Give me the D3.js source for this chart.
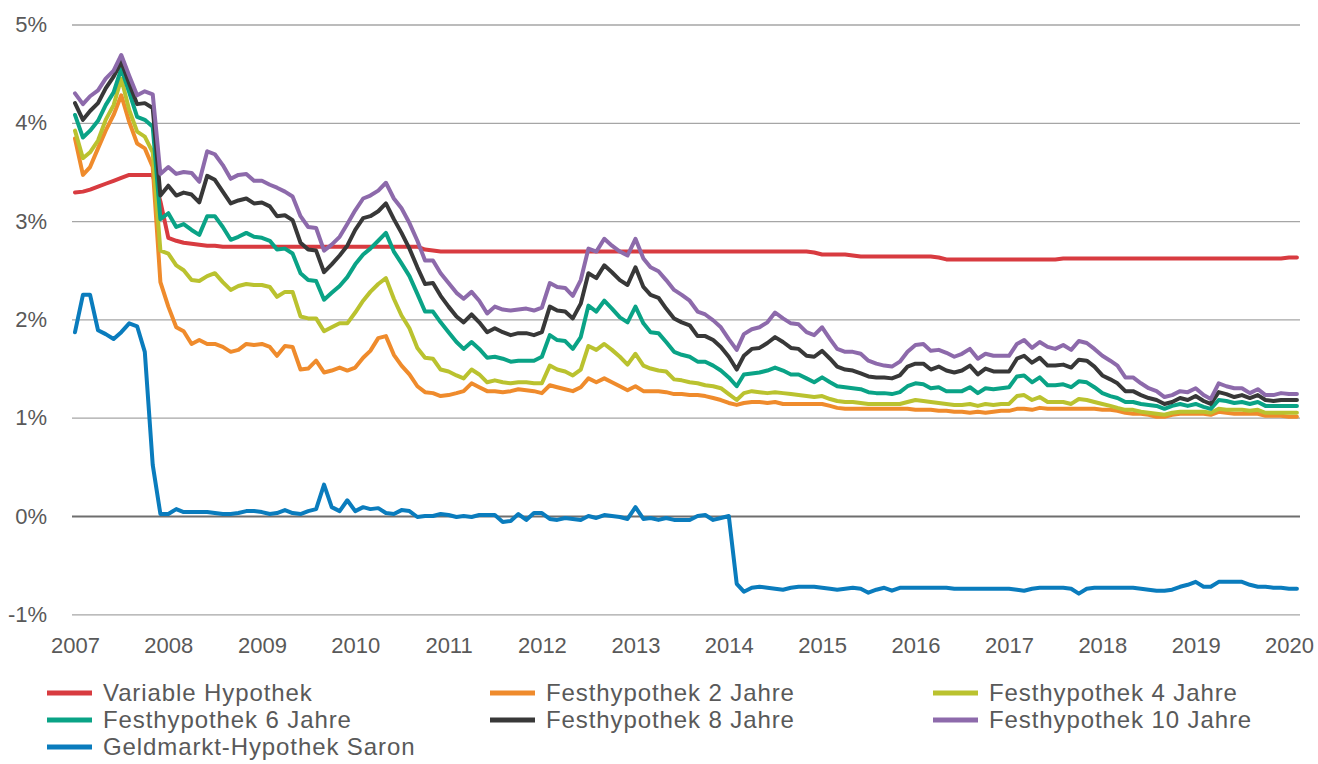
<!DOCTYPE html>
<html lang="de">
<head>
<meta charset="UTF-8">
<title>Hypothekarzinsen</title>
<style>
  body { margin: 0; background: #fff; }
  .axis text { font-family: "Liberation Sans", Arial, sans-serif; font-size: 22px; fill: #595959; }
  .legend text { font-family: "Liberation Sans", Arial, sans-serif; font-size: 24px; fill: #595959; letter-spacing: 0.9px; }
  .grid line { stroke: #a6a6a6; stroke-width: 1.3px; }
  .line { fill: none; stroke-width: 4px; stroke-linejoin: round; stroke-linecap: round; }
</style>
</head>
<body>
<script src="https://d3js.org/d3.v7.min.js"></script>
<script>
// monthly values, Jan 2007 .. Feb 2020 (one row per year)
const variable = [
  3.29, 3.30, 3.32, 3.35, 3.38, 3.41, 3.44, 3.47, 3.47, 3.47, 3.47, 3.20,
  2.83, 2.80, 2.78, 2.77, 2.76, 2.75, 2.75, 2.74, 2.74, 2.74, 2.74, 2.74,
  2.74, 2.74, 2.74, 2.74, 2.74, 2.74, 2.74, 2.74, 2.74, 2.74, 2.74, 2.74,
  2.74, 2.74, 2.74, 2.74, 2.74, 2.74, 2.74, 2.74, 2.74, 2.71, 2.70, 2.69,
  2.69, 2.69, 2.69, 2.69, 2.69, 2.69, 2.69, 2.69, 2.69, 2.69, 2.69, 2.69,
  2.69, 2.69, 2.69, 2.69, 2.69, 2.69, 2.69, 2.69, 2.69, 2.69, 2.69, 2.69,
  2.69, 2.69, 2.69, 2.69, 2.69, 2.69, 2.69, 2.69, 2.69, 2.69, 2.69, 2.69,
  2.69, 2.69, 2.69, 2.69, 2.69, 2.69, 2.69, 2.69, 2.69, 2.69, 2.69, 2.68,
  2.66, 2.66, 2.66, 2.66, 2.65, 2.64, 2.64, 2.64, 2.64, 2.64, 2.64, 2.64,
  2.64, 2.64, 2.64, 2.63, 2.61, 2.61, 2.61, 2.61, 2.61, 2.61, 2.61, 2.61,
  2.61, 2.61, 2.61, 2.61, 2.61, 2.61, 2.61, 2.62, 2.62, 2.62, 2.62, 2.62,
  2.62, 2.62, 2.62, 2.62, 2.62, 2.62, 2.62, 2.62, 2.62, 2.62, 2.62, 2.62,
  2.62, 2.62, 2.62, 2.62, 2.62, 2.62, 2.62, 2.62, 2.62, 2.62, 2.62, 2.62,
  2.63, 2.63
];
const fix2 = [
  3.84, 3.47, 3.55, 3.74, 3.92, 4.08, 4.28, 4.01, 3.79, 3.74, 3.55, 2.38,
  2.13, 1.92, 1.88, 1.75, 1.79, 1.75, 1.75, 1.72, 1.67, 1.69, 1.75, 1.74,
  1.75, 1.72, 1.63, 1.73, 1.72, 1.49, 1.50, 1.58, 1.46, 1.48, 1.51, 1.48,
  1.51, 1.61, 1.68, 1.81, 1.83, 1.64, 1.53, 1.44, 1.32, 1.26, 1.25, 1.22,
  1.23, 1.25, 1.27, 1.35, 1.31, 1.27, 1.27, 1.26, 1.27, 1.29, 1.28, 1.27,
  1.25, 1.33, 1.31, 1.29, 1.27, 1.31, 1.40, 1.36, 1.40, 1.36, 1.32, 1.28,
  1.32, 1.27, 1.27, 1.27, 1.26, 1.24, 1.24, 1.23, 1.23, 1.22, 1.20, 1.18,
  1.15, 1.13, 1.15, 1.16, 1.16, 1.15, 1.16, 1.14, 1.14, 1.14, 1.14, 1.14,
  1.14, 1.12, 1.10, 1.09, 1.09, 1.09, 1.09, 1.09, 1.09, 1.09, 1.09, 1.09,
  1.08, 1.08, 1.08, 1.07, 1.07, 1.06, 1.06, 1.05, 1.06, 1.05, 1.06, 1.07,
  1.07, 1.09, 1.09, 1.08, 1.10, 1.09, 1.09, 1.09, 1.09, 1.09, 1.09, 1.09,
  1.08, 1.08, 1.07, 1.05, 1.04, 1.04, 1.03, 1.01, 1.01, 1.03, 1.04, 1.04,
  1.04, 1.04, 1.03, 1.06, 1.05, 1.04, 1.04, 1.04, 1.04, 1.02, 1.02, 1.02,
  1.01, 1.01
];
const fix4 = [
  3.92, 3.64, 3.70, 3.82, 4.03, 4.18, 4.45, 4.13, 3.91, 3.86, 3.70, 2.70,
  2.67, 2.55, 2.50, 2.40, 2.39, 2.44, 2.47, 2.38, 2.30, 2.34, 2.36, 2.35,
  2.35, 2.33, 2.23, 2.28, 2.28, 2.03, 2.01, 2.01, 1.88, 1.92, 1.96, 1.96,
  2.07, 2.19, 2.28, 2.36, 2.42, 2.21, 2.04, 1.91, 1.71, 1.61, 1.60, 1.49,
  1.47, 1.43, 1.40, 1.49, 1.44, 1.36, 1.38, 1.36, 1.35, 1.36, 1.36, 1.35,
  1.35, 1.53, 1.49, 1.47, 1.43, 1.49, 1.73, 1.69, 1.75, 1.69, 1.62, 1.54,
  1.65, 1.53, 1.50, 1.48, 1.47, 1.39, 1.38, 1.36, 1.35, 1.33, 1.32, 1.30,
  1.24, 1.18, 1.25, 1.27, 1.26, 1.25, 1.26, 1.25, 1.24, 1.23, 1.22, 1.21,
  1.22, 1.19, 1.17, 1.16, 1.16, 1.15, 1.14, 1.14, 1.14, 1.14, 1.14, 1.16,
  1.18, 1.17, 1.16, 1.15, 1.14, 1.13, 1.13, 1.14, 1.12, 1.14, 1.13, 1.14,
  1.14, 1.22, 1.23, 1.18, 1.21, 1.16, 1.16, 1.16, 1.14, 1.19, 1.18, 1.16,
  1.14, 1.12, 1.10, 1.08, 1.08, 1.06, 1.05, 1.04, 1.03, 1.05, 1.06, 1.06,
  1.06, 1.06, 1.05, 1.09, 1.08, 1.08, 1.08, 1.07, 1.08, 1.05, 1.05, 1.05,
  1.05, 1.05
];
const fix6 = [
  4.08, 3.85, 3.92, 4.02, 4.18, 4.31, 4.55, 4.31, 4.06, 4.03, 3.96, 3.02,
  3.08, 2.94, 2.97, 2.91, 2.86, 3.05, 3.05, 2.94, 2.81, 2.84, 2.88, 2.84,
  2.83, 2.80, 2.71, 2.72, 2.67, 2.47, 2.40, 2.39, 2.20, 2.27, 2.34, 2.43,
  2.56, 2.66, 2.72, 2.80, 2.88, 2.69, 2.57, 2.44, 2.26, 2.08, 2.08, 1.97,
  1.87, 1.77, 1.70, 1.77, 1.70, 1.61, 1.62, 1.60, 1.57, 1.58, 1.58, 1.58,
  1.62, 1.84, 1.79, 1.78, 1.70, 1.82, 2.14, 2.08, 2.19, 2.11, 2.02, 1.97,
  2.13, 1.96, 1.87, 1.86, 1.77, 1.67, 1.64, 1.62, 1.57, 1.57, 1.53, 1.48,
  1.41, 1.32, 1.44, 1.45, 1.46, 1.48, 1.51, 1.48, 1.44, 1.44, 1.40, 1.36,
  1.41, 1.36, 1.32, 1.31, 1.30, 1.29, 1.26, 1.25, 1.25, 1.24, 1.26, 1.32,
  1.35, 1.34, 1.30, 1.31, 1.27, 1.27, 1.27, 1.31, 1.25, 1.30, 1.29, 1.30,
  1.31, 1.42, 1.43, 1.36, 1.41, 1.33, 1.33, 1.34, 1.31, 1.37, 1.36, 1.31,
  1.25, 1.22, 1.20, 1.16, 1.16, 1.14, 1.13, 1.12, 1.09, 1.12, 1.14, 1.12,
  1.14, 1.11, 1.09, 1.18, 1.17, 1.15, 1.16, 1.14, 1.16, 1.12, 1.12, 1.12,
  1.12, 1.12
];
const fix8 = [
  4.20, 4.03, 4.12, 4.20, 4.35, 4.47, 4.62, 4.40, 4.19, 4.20, 4.15, 3.26,
  3.36, 3.26, 3.29, 3.27, 3.19, 3.46, 3.42, 3.30, 3.18, 3.21, 3.23, 3.18,
  3.19, 3.15, 3.05, 3.06, 3.01, 2.78, 2.71, 2.70, 2.48, 2.56, 2.65, 2.75,
  2.91, 3.03, 3.05, 3.10, 3.18, 3.02, 2.88, 2.72, 2.53, 2.36, 2.37, 2.24,
  2.13, 2.03, 1.97, 2.05, 1.97, 1.87, 1.91, 1.87, 1.84, 1.86, 1.86, 1.84,
  1.87, 2.13, 2.09, 2.08, 2.01, 2.16, 2.47, 2.42, 2.55, 2.48, 2.40, 2.35,
  2.53, 2.33, 2.25, 2.22, 2.11, 2.01, 1.97, 1.94, 1.83, 1.83, 1.79, 1.72,
  1.62, 1.49, 1.63, 1.70, 1.71, 1.76, 1.82, 1.77, 1.71, 1.70, 1.63, 1.62,
  1.68, 1.60, 1.52, 1.49, 1.48, 1.45, 1.42, 1.41, 1.41, 1.40, 1.43, 1.52,
  1.55, 1.55, 1.49, 1.52, 1.48, 1.46, 1.48, 1.53, 1.44, 1.50, 1.47, 1.47,
  1.47, 1.60, 1.63, 1.56, 1.61, 1.53, 1.53, 1.54, 1.51, 1.59, 1.58, 1.52,
  1.43, 1.39, 1.35, 1.27, 1.27, 1.23, 1.20, 1.18, 1.14, 1.16, 1.20, 1.18,
  1.22, 1.17, 1.14, 1.26, 1.24, 1.21, 1.23, 1.20, 1.23, 1.18, 1.17, 1.18,
  1.18, 1.18
];
const fix10 = [
  4.30, 4.19, 4.27, 4.33, 4.45, 4.53, 4.69, 4.48, 4.28, 4.32, 4.29, 3.48,
  3.55, 3.48, 3.50, 3.49, 3.40, 3.71, 3.68, 3.57, 3.43, 3.47, 3.48, 3.41,
  3.41, 3.37, 3.34, 3.30, 3.25, 3.05, 2.94, 2.93, 2.70, 2.76, 2.84, 2.97,
  3.11, 3.23, 3.26, 3.31, 3.39, 3.23, 3.13, 2.98, 2.80, 2.60, 2.60, 2.47,
  2.37, 2.27, 2.21, 2.28, 2.19, 2.06, 2.13, 2.10, 2.09, 2.10, 2.11, 2.09,
  2.12, 2.37, 2.33, 2.32, 2.24, 2.40, 2.72, 2.69, 2.82, 2.75, 2.69, 2.65,
  2.82, 2.62, 2.53, 2.49, 2.40, 2.30, 2.25, 2.19, 2.08, 2.05, 1.99, 1.92,
  1.80, 1.69, 1.85, 1.90, 1.92, 1.97, 2.07, 2.01, 1.96, 1.95, 1.87, 1.84,
  1.92, 1.80, 1.70, 1.67, 1.67, 1.65, 1.58, 1.55, 1.53, 1.52, 1.57, 1.67,
  1.74, 1.75, 1.68, 1.69, 1.66, 1.62, 1.65, 1.70, 1.60, 1.65, 1.63, 1.63,
  1.63, 1.75, 1.79, 1.71, 1.77, 1.72, 1.70, 1.74, 1.69, 1.78, 1.76, 1.70,
  1.63, 1.58, 1.53, 1.41, 1.41, 1.35, 1.30, 1.27, 1.21, 1.23, 1.27, 1.26,
  1.30, 1.23, 1.19, 1.35, 1.32, 1.30, 1.30, 1.25, 1.29, 1.23, 1.23, 1.25,
  1.24, 1.24
];
const saron = [
  1.87, 2.25, 2.25, 1.89, 1.85, 1.80, 1.87, 1.96, 1.93, 1.67, 0.52, 0.02,
  0.02, 0.07, 0.04, 0.04, 0.04, 0.04, 0.03, 0.02, 0.02, 0.03, 0.05, 0.05,
  0.04, 0.02, 0.03, 0.06, 0.03, 0.02, 0.05, 0.07, 0.32, 0.09, 0.05, 0.16,
  0.05, 0.09, 0.07, 0.08, 0.03, 0.02, 0.06, 0.05, -0.01, 0.00, 0.00, 0.02,
  0.01, -0.01, 0.00, -0.01, 0.01, 0.01, 0.01, -0.06, -0.05, 0.02, -0.04, 0.03,
  0.03, -0.03, -0.04, -0.02, -0.03, -0.04, 0.00, -0.02, 0.01, 0.00, -0.01, -0.03,
  0.09, -0.03, -0.02, -0.04, -0.02, -0.04, -0.04, -0.04, 0.00, 0.01, -0.04, -0.02,
  0.00, -0.69, -0.77, -0.73, -0.72, -0.73, -0.74, -0.75, -0.73, -0.72, -0.72, -0.72,
  -0.73, -0.74, -0.75, -0.74, -0.73, -0.74, -0.78, -0.75, -0.73, -0.76, -0.73, -0.73,
  -0.73, -0.73, -0.73, -0.73, -0.73, -0.74, -0.74, -0.74, -0.74, -0.74, -0.74, -0.74,
  -0.74, -0.75, -0.76, -0.74, -0.73, -0.73, -0.73, -0.73, -0.74, -0.79, -0.74, -0.73,
  -0.73, -0.73, -0.73, -0.73, -0.73, -0.74, -0.75, -0.76, -0.76, -0.75, -0.72, -0.70,
  -0.67, -0.72, -0.72, -0.67, -0.67, -0.67, -0.67, -0.70, -0.72, -0.72, -0.73, -0.73,
  -0.74, -0.74
];

const seriesNames = ['Variable Hypothek', 'Festhypothek 2 Jahre', 'Festhypothek 4 Jahre',
  'Festhypothek 6 Jahre', 'Festhypothek 8 Jahre', 'Festhypothek 10 Jahre', 'Geldmarkt-Hypothek Saron'];
const seriesValues = [variable, fix2, fix4, fix6, fix8, fix10, saron];
const colors = ['#d83b40', '#ef8b2c', '#bac22f', '#0aa386', '#383838', '#8d6aab', '#0a7cbd'];
const years = d3.range(2007, 2021);
const yTicks = [-1, 0, 1, 2, 3, 4, 5];

const months = d3.timeMonth.range(new Date(2007, 0, 1), new Date(2020, 2, 1));

const W = 1318, H = 764;
const svg = d3.select('body').append('svg')
  .attr('width', W).attr('height', H)
  .style('background', '#fff');

const x = d3.scaleTime()
  .domain([new Date(2007, 0, 1), new Date(2020, 0, 1)])
  .range([75, 1289]);
const y = d3.scaleLinear().domain([-1, 5]).range([614.3, 24.5]);

const gridLeft = 72, gridRight = 1300;

// y axis + gridlines
const gy = svg.append('g')
  .attr('class', 'axis grid')
  .attr('transform', `translate(${gridLeft},0)`)
  .call(d3.axisLeft(y).tickValues(yTicks).tickSize(-(gridRight - gridLeft))
    .tickPadding(25).tickFormat(d => d + '%'));
gy.select('.domain').remove();
gy.selectAll('.tick line')
  .style('stroke', d => d === 0 ? '#6e6e6e' : '#a6a6a6')
  .style('stroke-width', d => d === 0 ? '2px' : '1.3px');

// x axis labels
const gx = svg.append('g')
  .attr('class', 'axis')
  .attr('transform', `translate(0,614)`)
  .call(d3.axisBottom(x).tickValues(years.map(yr => new Date(yr, 0, 1)))
    .tickSize(0).tickPadding(23).tickFormat(d3.timeFormat('%Y')));
gx.select('.domain').remove();

// lines
const line = d3.line()
  .x((d, i) => x(months[i]))
  .y(d => y(d));

svg.selectAll('.line')
  .data(seriesValues)
  .enter().append('path')
  .attr('class', 'line')
  .attr('stroke', (d, i) => colors[i])
  .attr('d', d => line(d));

// legend
const legX = [47, 490, 933];
const legY = [693, 720, 747];
const leg = svg.append('g').attr('class', 'legend')
  .selectAll('g')
  .data(seriesNames)
  .enter().append('g')
  .attr('transform', (d, i) => `translate(${legX[i % 3]},${legY[Math.floor(i / 3)]})`);

leg.append('line')
  .attr('x1', 0).attr('x2', 45)
  .attr('y1', 0).attr('y2', 0)
  .attr('stroke', (d, i) => colors[i])
  .attr('stroke-width', 5);

leg.append('text')
  .attr('x', 56)
  .attr('dy', '0.35em')
  .text(d => d);
</script>
</body>
</html>
